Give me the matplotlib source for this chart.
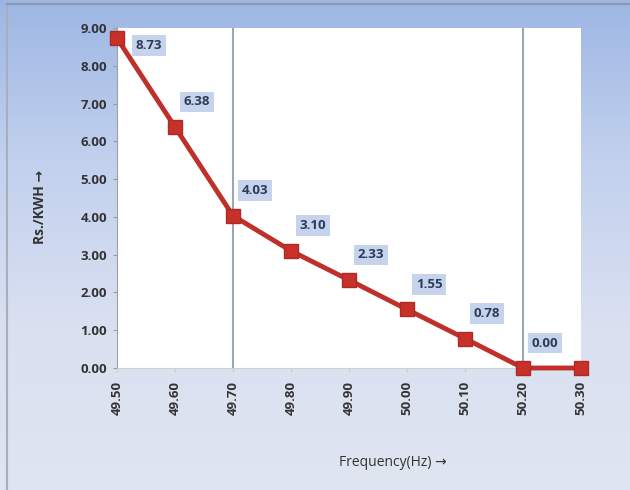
import numpy as np
import matplotlib.pyplot as plt
from matplotlib.colors import LinearSegmentedColormap

# data
freq_labels = ["49.50", "49.60", "49.70", "49.80", "49.90", "50.00", "50.10", "50.20", "50.30"]
rate = [8.73, 6.38, 4.03, 3.10, 2.33, 1.55, 0.78, 0.00, 0.00]
shown_labels = ["8.73", "6.38", "4.03", "3.10", "2.33", "1.55", "0.78", "0.00"]
band_edges = ["49.70", "50.20"]
y_ticks = [0, 1, 2, 3, 4, 5, 6, 7, 8, 9]

fig = plt.figure(figsize=(6.3, 4.9), dpi=100)
plt.rcParams['font.family'] = ['Open Sans', 'DejaVu Sans']

# gradient background with thin border
bg = fig.add_axes([0, 0, 1, 1], zorder=0)
grad = np.linspace(0, 1, 256).reshape(-1, 1)
cmap = LinearSegmentedColormap.from_list("bg", ["#9cb6e3", "#c3d1ee", "#d9e0f1", "#dfe5f0"])
bg.imshow(grad, aspect="auto", cmap=cmap, extent=[0, 1, 0, 1], origin="upper")
bg.plot([7 / 630, 7 / 630], [0, 1 - 4 / 490], color="#a9aebb", lw=1.5)
bg.plot([7 / 630, 1], [1 - 4 / 490, 1 - 4 / 490], color="#8e97a8", lw=1.5)
bg.set_xlim(0, 1)
bg.set_ylim(0, 1)
bg.axis("off")

ax = fig.add_axes([117 / 630, 1 - 368 / 490, 464 / 630, 340 / 490], zorder=1)
ax.set_facecolor("white")
x = np.arange(len(freq_labels))

for b in band_edges:
    ax.axvline(freq_labels.index(b), color="#9aa7b8", lw=1.5, zorder=1)

ax.plot(x, rate, color="#c0302a", lw=3.5, marker="s", markersize=10,
        markerfacecolor="#c8302a", markeredgecolor="#b02a25", zorder=3, clip_on=False)

for i, lab in enumerate(shown_labels):
    if i == 0:
        dx, dy = 23, -5
    else:
        dx, dy = 16, 18
    ax.annotate(lab, (x[i], rate[i]), xytext=(dx, dy), textcoords="offset points",
                ha="center", va="center", fontsize=9.5, fontweight="bold", color="#2e3a58",
                bbox=dict(boxstyle="square,pad=0.3", fc="#c6d3ec", ec="none"), zorder=4)

ax.set_xlim(0, len(freq_labels) - 1)
ax.set_ylim(0, 9)
ax.set_yticks(y_ticks)
ax.set_yticklabels([f"{v:.2f}" for v in y_ticks], fontsize=9.5, fontweight="bold", color="#333333")
ax.set_xticks(x)
ax.set_xticklabels(freq_labels, rotation=90, fontsize=9.5, fontweight="bold", color="#333333")
ax.tick_params(axis="y", length=3, color="#999999", pad=4)
ax.tick_params(axis="x", length=3, color="#cccccc", pad=6)

for s in ["top", "right"]:
    ax.spines[s].set_visible(False)
ax.spines["left"].set_color("#a0a0a0")
ax.spines["bottom"].set_color("#d0d0d0")

fig.text(40 / 630, 1 - 207 / 490, "Rs./KWH \u2192", rotation=90, ha="center", va="center",
         fontsize=10, fontweight="bold", color="#333333")
fig.text(393 / 630, 1 - 462 / 490, "Frequency(Hz) \u2192", ha="center", va="center",
         fontsize=10, color="#333333")

fig.savefig("out.png", dpi=100)
